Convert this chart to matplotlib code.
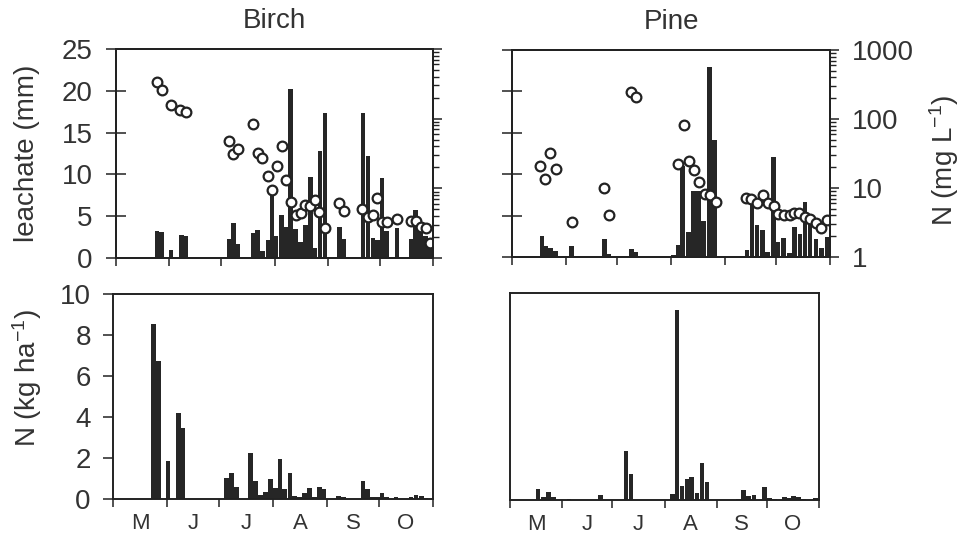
import matplotlib
matplotlib.use('Agg')
import matplotlib.pyplot as plt
from matplotlib.ticker import FixedLocator, NullFormatter, LogLocator

plt.rcParams['font.family'] = ['Liberation Sans', 'DejaVu Sans']
plt.rcParams['mathtext.fontset'] = 'custom'
plt.rcParams['mathtext.rm'] = 'Liberation Sans'
plt.rcParams['mathtext.default'] = 'regular'
plt.rcParams['text.color'] = '#333333'
plt.rcParams['xtick.color'] = '#222222'
plt.rcParams['ytick.color'] = '#222222'
plt.rcParams['xtick.labelcolor'] = '#333333'
plt.rcParams['ytick.labelcolor'] = '#333333'

# day of year (May 1 = 121 ... Oct 31 = 304)
month_edges = [121, 152, 182, 213, 244, 274, 305]
month_labels = ['M', 'J', 'J', 'A', 'S', 'O']

# Birch: leachate (mm)
birch_leach_day = [144.8, 147.5, 152.9, 158.9, 161.6, 186.6, 189.3, 191.8, 200.7, 203.2,
                   205.9, 209.2, 211.5, 213.9, 216.9, 219.7, 222.4, 225.1, 228.2, 231.1,
                   233.8, 236.3, 239.4, 242.3, 250.6, 253.3, 264.4, 267.3, 270.2, 272.9,
                   275.4, 277.9, 284.1, 292.2, 295.0, 297.8, 300.7, 303.6]
birch_leach_mm = [3.2, 3.1, 1.0, 2.7, 2.6, 2.3, 4.2, 1.7, 3.0, 3.3,
                  0.8, 2.1, 8.0, 2.6, 5.1, 3.7, 20.2, 3.5, 1.9, 4.0,
                  9.7, 1.2, 12.8, 17.4, 3.7, 2.3, 17.4, 12.2, 2.4, 2.1,
                  9.6, 3.2, 3.6, 2.3, 5.8, 3.8, 2.6, 1.4]

# Birch: N concentration (mg/L)
birch_conc_day = [144.6, 147.5, 152.9, 158.0, 161.6, 186.8, 189.0, 192.0, 200.3, 203.2,
                  205.9, 209.0, 211.5, 214.6, 217.2, 219.7, 222.6, 225.5, 228.2, 230.7,
                  233.6, 236.5, 239.0, 242.5, 250.6, 253.5, 264.0, 267.1, 270.0, 272.6,
                  275.2, 278.4, 283.9, 292.0, 295.1, 297.8, 300.7, 303.2]
birch_conc = [331, 255, 156, 134, 126, 48, 31.6, 36.3, 84, 32.5,
              27.5, 14.8, 9.6, 20.6, 40, 13.2, 6.3, 4.1, 4.4, 5.8,
              5.6, 6.9, 4.6, 2.7, 6.1, 4.8, 5.0, 3.9, 4.1, 7.2,
              3.3, 3.3, 3.6, 3.4, 3.4, 2.8, 2.7, 1.65]

# Birch: N flux (kg/ha)
birch_n_day = [144.2, 147.2, 152.6, 158.5, 161.3, 186.3, 189.1, 192.0, 200.2, 203.1,
               205.9, 208.6, 211.4, 214.3, 217.0, 219.8, 222.7, 225.4, 228.3, 231.3,
               234.1, 236.9, 239.6, 242.4, 250.7, 253.6, 264.7, 267.4, 270.2, 273.0,
               275.6, 278.3, 283.8, 292.4, 295.3, 298.2, 301.0]
birch_n_kg = [8.54, 6.73, 1.87, 4.2, 3.45, 1.04, 1.28, 0.59, 2.24, 0.88,
              0.18, 0.33, 0.98, 0.54, 1.97, 0.5, 1.27, 0.13, 0.1, 0.28,
              0.54, 0.08, 0.59, 0.49, 0.16, 0.11, 0.88, 0.49, 0.11, 0.11,
              0.29, 0.11, 0.11, 0.08, 0.2, 0.13, 0.07]

# Pine: leachate (mm)
pine_leach_day = [138.4, 140.7, 143.2, 146.0, 155.5, 174.4, 177.2, 190.0, 192.7, 214.5,
                  217.2, 219.8, 223.0, 226.0, 228.9, 231.8, 235.2, 238.3, 257.0, 259.8,
                  262.7, 265.8, 269.0, 272.3, 275.0, 278.2, 281.4, 284.6, 287.6, 290.5,
                  293.5, 296.9, 299.9, 303.2]
pine_leach_mm = [2.5, 1.3, 1.1, 0.7, 1.3, 2.2, 0.4, 1.0, 0.65, 0.3,
                 1.4, 11.0, 3.0, 8.0, 8.0, 4.3, 22.9, 14.1, 0.9, 7.1,
                 3.9, 3.3, 0.65, 12.1, 1.8, 2.3, 0.5, 3.6, 2.8, 6.6,
                 4.8, 2.2, 1.1, 2.4]

# Pine: N concentration (mg/L)
pine_conc_day = [137.0, 140.3, 143.2, 146.5, 155.5, 174.4, 177.3, 189.8, 192.7, 217.2,
                 220.3, 223.4, 226.4, 229.3, 232.4, 235.7, 238.8, 256.3, 259.2, 262.7,
                 266.5, 269.4, 272.7, 275.2, 278.5, 281.6, 284.4, 287.3, 290.6, 293.5,
                 296.8, 300.0, 303.5]
pine_conc = [21, 13.3, 31.8, 18.7, 3.25, 10, 4.1, 250, 205, 22,
             81, 25, 18.1, 12.2, 8.3, 7.8, 6.2, 7.1, 6.9, 6.0,
             8.0, 6.0, 5.4, 4.2, 4.1, 4.1, 4.3, 4.3, 3.8, 3.6,
             3.1, 2.6, 3.4]

# Pine: N flux (kg/ha)
pine_n_day = [137.8, 140.8, 143.9, 146.8, 156.0, 175.0, 190.1, 193.1, 217.7, 220.4,
              223.3, 226.3, 229.2, 232.3, 235.4, 238.3, 257.1, 260.0, 263.0, 266.2,
              272.6, 275.6, 278.6, 284.4, 287.2, 289.9, 292.9, 295.8, 303.0]
pine_n_kg = [0.53, 0.15, 0.37, 0.16, 0.05, 0.24, 2.35, 1.24, 0.29, 9.19,
             0.68, 1.03, 1.13, 0.35, 1.77, 0.87, 0.06, 0.48, 0.21, 0.23,
             0.65, 0.08, 0.06, 0.15, 0.11, 0.19, 0.15, 0.05, 0.08]

BAR = '#262626'
EDGE = '#222222'
W, H = 963, 536

fig = plt.figure(figsize=(W / 100, H / 100), dpi=100)


def add_ax(x0, y0, x1, y1):
    return fig.add_axes([x0 / W, 1 - y1 / H, (x1 - x0) / W, (y1 - y0) / H])


def style_time_axis(ax, labels):
    ax.set_xlim(month_edges[0], month_edges[-1])
    ax.set_xticks(month_edges)
    ax.set_xticklabels([])
    ax.tick_params(axis='x', which='major', direction='out', length=5.5, width=1.1)
    if labels:
        mids = [(a + b) / 2 for a, b in zip(month_edges[:-1], month_edges[1:])]
        ax.set_xticks(mids, minor=True)
        ax.set_xticklabels(month_labels, minor=True, fontsize=16)
        ax.tick_params(axis='x', which='minor', length=0, pad=10)
    for s in ax.spines.values():
        s.set_linewidth(1.4)
        s.set_color(EDGE)


def conc_axis(ax, show_labels):
    ax2 = ax.twinx()
    ax2.set_yscale('log')
    ax2.set_ylim(1, 1000)
    ax2.yaxis.set_major_locator(FixedLocator([1, 10, 100, 1000]))
    ax2.yaxis.set_minor_locator(LogLocator(base=10, subs=range(2, 10)))
    ax2.yaxis.set_minor_formatter(NullFormatter())
    ax2.tick_params(axis='y', which='major', direction='out', length=6.5, width=1.1, pad=9)
    ax2.tick_params(axis='y', which='minor', direction='out', length=4, width=1.0)
    if show_labels:
        ax2.set_yticklabels(['1', '10', '100', '1000'], fontsize=20)
    else:
        ax2.set_yticklabels([])
    for s in ax2.spines.values():
        s.set_linewidth(1.4)
        s.set_color(EDGE)
    return ax2


# top panels: leachate bars + concentration circles
ax_tl = add_ax(116, 49, 433, 258)
ax_tr = add_ax(512, 50, 830, 257)
for ax, d, v, cd, c, lab in [
        (ax_tl, birch_leach_day, birch_leach_mm, birch_conc_day, birch_conc, False),
        (ax_tr, pine_leach_day, pine_leach_mm, pine_conc_day, pine_conc, True)]:
    ax.bar(d, v, width=2.7, color=BAR, linewidth=0)
    ax.set_ylim(0, 25)
    ax.set_yticks([0, 5, 10, 15, 20, 25])
    ax.tick_params(axis='y', direction='inout', length=14, width=1.1, pad=10)
    style_time_axis(ax, False)
    ax2 = conc_axis(ax, lab)
    ax2.plot(cd, c, 'o', mfc='white', mec=EDGE, ms=7, mew=1.6)

ax_tl.set_yticklabels(['0', '5', '10', '15', '20', '25'], fontsize=20)
ax_tr.set_yticklabels([])
ax_tl.set_title('Birch', fontsize=20, pad=15)
ax_tr.set_title('Pine', fontsize=20, pad=15)

# bottom panels: N flux bars
ax_bl = add_ax(113, 294, 433, 499)
ax_br = add_ax(510, 293, 819, 500)
ax_bl.bar(birch_n_day, birch_n_kg, width=2.7, color=BAR, linewidth=0)
ax_br.bar(pine_n_day, pine_n_kg, width=2.7, color=BAR, linewidth=0)
for ax in (ax_bl, ax_br):
    ax.set_ylim(0, 10)
    style_time_axis(ax, True)
ax_bl.set_yticks([0, 2, 4, 6, 8, 10])
ax_bl.set_yticklabels(['0', '2', '4', '6', '8', '10'], fontsize=20)
ax_bl.tick_params(axis='y', direction='out', length=7, width=1.1, pad=9)
ax_br.set_yticks([])

# axis titles
fig.text(27 / W, 1 - 153 / H, 'leachate (mm)', rotation=90, ha='center', va='center', fontsize=20)
fig.text(27 / W, 1 - 378 / H, 'N (kg ha$^{-1}$)', rotation=90, ha='center', va='center', fontsize=20)
fig.text(944 / W, 1 - 160 / H, 'N (mg L$^{-1}$)', rotation=90, ha='center', va='center', fontsize=20)

fig.savefig('out.png', dpi=100)
